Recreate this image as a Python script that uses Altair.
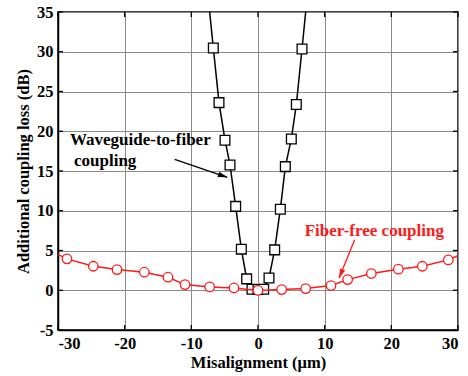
import altair as alt
import pandas as pd

# Fiber-free coupling (red circles)
ff_x = [-28.65, -24.7, -21.15, -17.05, -13.5, -10.95, -7.25, -3.6, 0.0, 3.55, 7.15, 10.95, 13.45, 17.0, 21.05, 24.65, 28.55]
ff_y = [3.95, 3.02, 2.6, 2.27, 1.64, 0.71, 0.42, 0.29, -0.02, 0.08, 0.21, 0.59, 1.34, 2.1, 2.65, 3.02, 3.82]
ff_ext_x = [-32.0, 32.0]
ff_ext_y = [5.3, 5.1]

# Waveguide-to-fiber coupling (black squares)
wg_x = [-6.7, -5.85, -4.95, -4.2, -3.35, -2.5, -1.7, -0.9, 0.0, 0.85, 1.65, 2.5, 3.35, 4.1, 5.0, 5.75, 6.6]
wg_y = [30.46, 23.6, 18.87, 15.76, 10.55, 5.17, 1.43, 0.13, 0.1, 0.13, 1.55, 5.08, 10.2, 15.55, 19.03, 23.36, 30.34]
wg_ext_x = [-7.7, 7.6]
wg_ext_y = [38.7, 38.8]

x_ticks = [-30, -20, -10, 0, 10, 20, 30]
y_ticks = [-5, 0, 5, 10, 15, 20, 25, 30, 35]

FONT = "Liberation Serif"
RED = "#ff1a1a"
W, H = 400, 318

ff_line = pd.DataFrame({"x": ff_x + ff_ext_x, "y": ff_y + ff_ext_y}).sort_values("x")
ff_pts = pd.DataFrame({"x": ff_x, "y": ff_y})
wg_line = pd.DataFrame({"x": wg_x + wg_ext_x, "y": wg_y + wg_ext_y}).sort_values("x")
wg_pts = pd.DataFrame({"x": wg_x, "y": wg_y})

xs = alt.Scale(domain=[-30, 30], nice=False, zero=False)
ys = alt.Scale(domain=[-5, 35], nice=False, zero=False)

x_axis = alt.Axis(values=x_ticks, title="Misalignment (μm)", ticks=False, labelPadding=5, titlePadding=3,
                  labelOverlap=False, labelExpr="toString(datum.value)")
y_axis = alt.Axis(values=y_ticks, title="Additional coupling loss (dB)", ticks=False, labelPadding=5,
                  titlePadding=5, labelOverlap=False, labelExpr="toString(datum.value)")
X = alt.X("x:Q", scale=xs, axis=x_axis)
Y = alt.Y("y:Q", scale=ys, axis=y_axis)
X2 = alt.X("x2:Q", scale=xs, axis=x_axis)
Y2 = alt.Y("y2:Q", scale=ys, axis=y_axis)

wg_l = alt.Chart(wg_line).mark_line(color="black", strokeWidth=1.5, clip=True).encode(
    x=X, y=Y, order="x:Q")
wg_p = alt.Chart(wg_pts).mark_point(shape="square", size=95, filled=True, fill="white",
                                    stroke="black", strokeWidth=1.3, opacity=1).encode(x=X, y=Y)
ff_l = alt.Chart(ff_line).mark_line(color=RED, strokeWidth=1.5, clip=True).encode(
    x=X, y=Y, order="x:Q")
ff_p = alt.Chart(ff_pts).mark_point(shape="circle", size=90, filled=True, fill="white",
                                    stroke=RED, strokeWidth=1.3, opacity=1).encode(x=X, y=Y)

# annotations
txt_black = alt.Chart(pd.DataFrame({"x": [-28.2, -27.6], "y": [18.85, 16.2],
                                    "t": ["Waveguide-to-fiber", "coupling"]})).mark_text(
    font=FONT, fontWeight="bold", fontSize=17, align="left", baseline="middle", color="black"
).encode(x=X, y=Y, text="t:N")
txt_red = alt.Chart(pd.DataFrame({"x": [7.0], "y": [7.5], "t": ["Fiber-free coupling"]})).mark_text(
    font=FONT, fontWeight="bold", fontSize=17, align="left", baseline="middle", color=RED
).encode(x=X, y=Y, text="t:N")

arrows = pd.DataFrame({"x": [-12.5, 14.5], "y": [16.46, 6.35], "x2": [-4.6, 12.15], "y2": [14.2, 1.51],
                       "c": ["black", RED], "ang": [108.6, 202.2]})
arr_l = alt.Chart(arrows).mark_rule(strokeWidth=1.3).encode(
    x=X, y=Y, x2="x2:Q", y2="y2:Q", color=alt.Color("c:N", scale=None))
arr_h = alt.Chart(arrows).mark_point(shape="M0,0L-0.3,1L0.3,1Z", size=360, filled=True, opacity=1).encode(
    x=X2, y=Y2, color=alt.Color("c:N", scale=None), angle=alt.Angle("ang:Q", scale=None))

# inner ticks
xt = pd.DataFrame({"x": x_ticks})
yt = pd.DataFrame({"y": y_ticks})
tk_b = alt.Chart(xt).mark_rule(color="black", strokeWidth=1.3).encode(x=X, y=alt.value(H), y2=alt.value(H - 5))
tk_t = alt.Chart(xt).mark_rule(color="black", strokeWidth=1.3).encode(x=X, y=alt.value(0), y2=alt.value(5))
tk_l = alt.Chart(yt).mark_rule(color="black", strokeWidth=1.3).encode(y=Y, x=alt.value(0), x2=alt.value(5))
tk_r = alt.Chart(yt).mark_rule(color="black", strokeWidth=1.3).encode(y=Y, x=alt.value(W), x2=alt.value(W - 5))

chart = alt.layer(wg_l, wg_p, ff_l, ff_p, txt_black, txt_red, arr_l, arr_h, tk_b, tk_t, tk_l, tk_r).properties(
    width=W, height=H,
    autosize=alt.AutoSizeParams(type="none"),
    padding={"left": 58, "top": 12, "right": 10, "bottom": 46},
    background="white",
).configure_view(stroke="black", strokeWidth=1.5).configure_axis(
    labelFont=FONT, titleFont=FONT, labelFontWeight="bold", titleFontWeight="bold",
    labelFontSize=16.5, titleFontSize=16.5, labelColor="black", titleColor="black",
    domainColor="black", domainWidth=1.5, gridColor="#8a8a8a", gridWidth=1, gridOpacity=1,
    labelOverlap=False,
)

chart.save("out.html", embed_options={"renderer": "svg", "actions": False})
